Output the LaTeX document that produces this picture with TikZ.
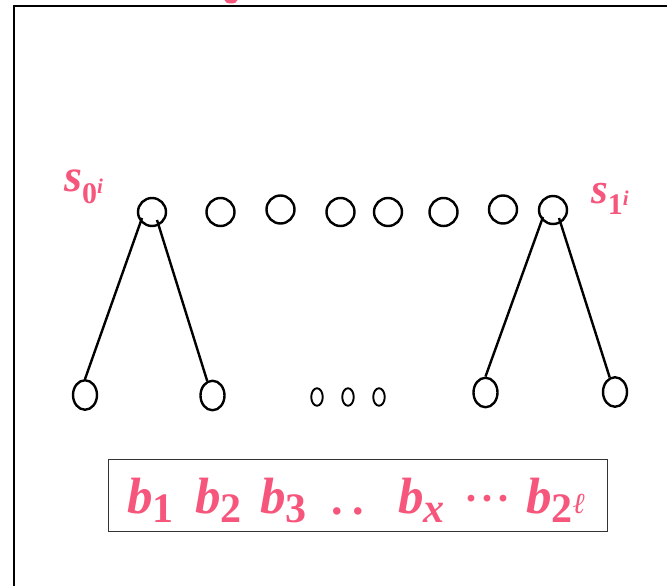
\documentclass[tikz,border=0pt]{standalone}
\usepackage{fontspec}
\setmainfont{Liberation Serif}
\usetikzlibrary{shapes.geometric,calc}
\definecolor{pk}{RGB}{246,86,124}
\newcommand\myB[1]{{\fontsize{51}{51}\selectfont\bfseries\itshape b}\raisebox{-9pt}{\fontsize{42}{42}\selectfont\bfseries #1}}
\newcommand\mySlab[4]{{\fontsize{#1}{#1}\selectfont\bfseries\itshape s}\raisebox{-#3pt}{\fontsize{30}{30}\selectfont\bfseries #2}\raisebox{-#4pt}{\fontsize{21}{21}\selectfont\bfseries\itshape i}}
\begin{document}
\begin{tikzpicture}[x=1pt,y=-1pt,
  top/.style={draw, circle, line width=2.4pt, minimum size=28pt, inner sep=0pt},
  leaf/.style={draw, ellipse, line width=2.4pt, minimum width=24pt, minimum height=29.5pt, inner sep=0pt},
  tiny/.style={draw, ellipse, line width=1.9pt, minimum width=11.5pt, minimum height=17.5pt, inner sep=0pt},
  edge/.style={line width=2.4pt},
  lab/.style={text=pk, inner sep=0pt, anchor=base west}]
\useasboundingbox (0,0) rectangle (667,586);
\begin{scope}
\clip (0,0) rectangle (667,586);
% frame and clipped red mark
\coordinate (fb) at (14,600);
\coordinate (fc) at (14,5.7);
\coordinate (fr) at (700,5.7);
\draw[line width=2.3pt] (fb) -- (fc) -- (fr);
\fill[pk] (231,0) ellipse (6.5 and 3.5);
\end{scope}
% top row
\node[top] (t1) at (152,212) {};
\node[top] (t2) at (220.5,212) {};
\node[top] (t3) at (280.5,209.5) {};
\node[top] (t4) at (340.5,212) {};
\node[top] (t5) at (388,212) {};
\node[top] (t6) at (443.5,212) {};
\node[top] (t7) at (503,209.5) {};
\node[top] (t8) at (553,210) {};
% leaves
\node[leaf] (l1) at (85,395) {};
\node[leaf] (l2) at (212.5,395.5) {};
\node[leaf] (l3) at (485.5,392.5) {};
\node[leaf] (l4) at (615,392) {};
\node[tiny] (m1) at (317,397) {};
\node[tiny] (m2) at (348,397) {};
\node[tiny] (m3) at (379,397) {};
% edges
\draw[edge] ($(t1)+(-10,6)$) -- (l1.north);
\draw[edge] ($(t1)+(5,8)$) -- (l2.110);
\draw[edge] ($(t8)+(-10,7)$) -- (l3.north);
\draw[edge] ($(t8)+(6,8)$) -- (l4.110);
% labels
\node[lab] (s0) at (64,191) {\mySlab{46}{0}{12}{2}};
\node[lab] (s1) at (591,203) {\mySlab{43}{1}{11}{2}};
% box
\node[draw=black!80, line width=0.9pt, minimum width=499pt, minimum height=72pt, inner sep=0pt] (box) at (357.5,495) {};
\node[lab] (b1) at (127,513) {\myB{1}};
\node[lab] (b2) at (195,513) {\myB{2}};
\node[lab] (b3) at (260,513) {\myB{3}};
\node[lab] (dd) at (331,514) {\fontsize{46}{46}\selectfont\bfseries .\hspace{10pt}.};
\node[lab] (bx) at (398,513) {{\fontsize{51}{51}\selectfont\bfseries\itshape b}\raisebox{-9pt}{\fontsize{42}{42}\selectfont\bfseries\itshape x}};
\node[lab] (cd) at (464,512) {\fontsize{42}{42}\selectfont\bfseries ·\hspace{2pt}·\hspace{2pt}·};
\node[lab] (b2l) at (526,513) {\myB{2\raisebox{9pt}{\fontsize{29}{29}\selectfont\mdseries\itshape ℓ}}};
\end{tikzpicture}
\end{document}
